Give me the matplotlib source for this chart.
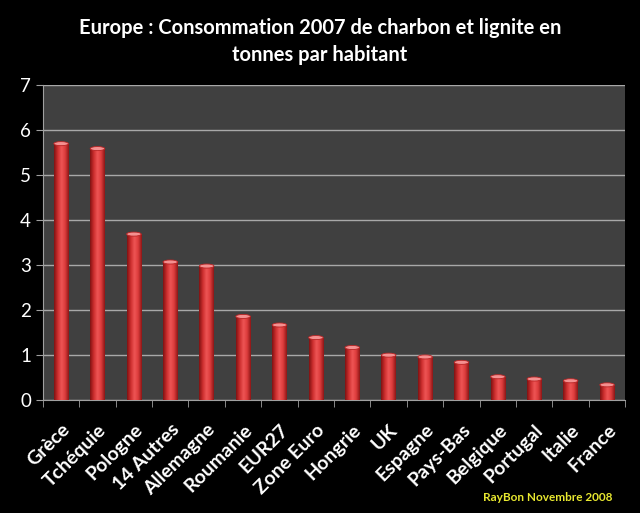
import numpy as np
import matplotlib
matplotlib.use('Agg')
import matplotlib.pyplot as plt
from matplotlib.colors import LinearSegmentedColormap
from matplotlib.patches import Ellipse

pays = ['Grèce', 'Tchéquie', 'Pologne', '14 Autres', 'Allemagne', 'Roumanie',
        'EUR27', 'Zone Euro', 'Hongrie', 'UK', 'Espagne', 'Pays-Bas',
        'Belgique', 'Portugal', 'Italie', 'France']
tonnes = [5.70, 5.59, 3.69, 3.07, 2.98, 1.86, 1.67, 1.39, 1.17, 1.00, 0.96,
          0.84, 0.52, 0.47, 0.43, 0.34]

plt.rcParams['font.family'] = ['Lato', 'DejaVu Sans']

fig = plt.figure(figsize=(6.4, 5.13), dpi=100, facecolor='black')
ax = fig.add_axes([0.067, 0.22, 0.91, 0.614])
ax.set_facecolor('#404040')

x = np.arange(len(pays))
largeur = 0.4
barres = ax.bar(x, tonnes, width=largeur, color='#c83232', zorder=2)

# degrade horizontal pour l'effet cylindre
cmap = LinearSegmentedColormap.from_list(
    'cyl', ['#801212', '#cc2e2e', '#ee5555', '#dc3c3c', '#8e1616'])
grad = np.linspace(0, 1, 64).reshape(1, -1)
for b in barres:
    x0, w, h = b.get_x(), b.get_width(), b.get_height()
    im = ax.imshow(grad, cmap=cmap, aspect='auto', zorder=3,
                   extent=[x0, x0 + w, 0, h], interpolation='bilinear')
    im.set_clip_path(b)
    ax.add_patch(Ellipse((x0 + w / 2, h), w, 0.09, facecolor='#f49090',
                         edgecolor='#b82424', lw=0.6, zorder=4))

ax.set_xlim(-0.5, len(pays) - 0.5)
ax.set_ylim(0, 7)
ax.set_yticks(range(0, 8))
ax.yaxis.grid(True, color='#a8a8a8', lw=1)
ax.set_axisbelow(True)

ax.set_xticks(x)
ax.set_xticklabels(pays, rotation=45, ha='right', va='top', rotation_mode='anchor',
                   fontsize=14, fontweight='bold', color='white')
ax.set_xticks(np.arange(-0.5, len(pays)), minor=True)
ax.tick_params(axis='x', which='major', length=0, pad=15)
ax.tick_params(axis='x', which='minor', length=5, color='#a0a0a0')
ax.tick_params(axis='y', labelsize=13.5, colors='white', length=5, color='#a0a0a0')

for s in ['top', 'right']:
    ax.spines[s].set_visible(False)
ax.spines['left'].set_color('#a0a0a0')
ax.spines['bottom'].set_color('#a0a0a0')

fig.text(0.5, 0.965, 'Europe : Consommation 2007 de charbon et lignite en\ntonnes par habitant',
         ha='center', va='top', fontsize=14.5, fontweight='bold', color='white',
         linespacing=1.45)
fig.text(0.957, 0.03, 'RayBon Novembre 2008', ha='right', va='center',
         fontsize=8.5, fontweight='bold', color='#e8e830')

fig.savefig('out.png', dpi=100, facecolor='black')
